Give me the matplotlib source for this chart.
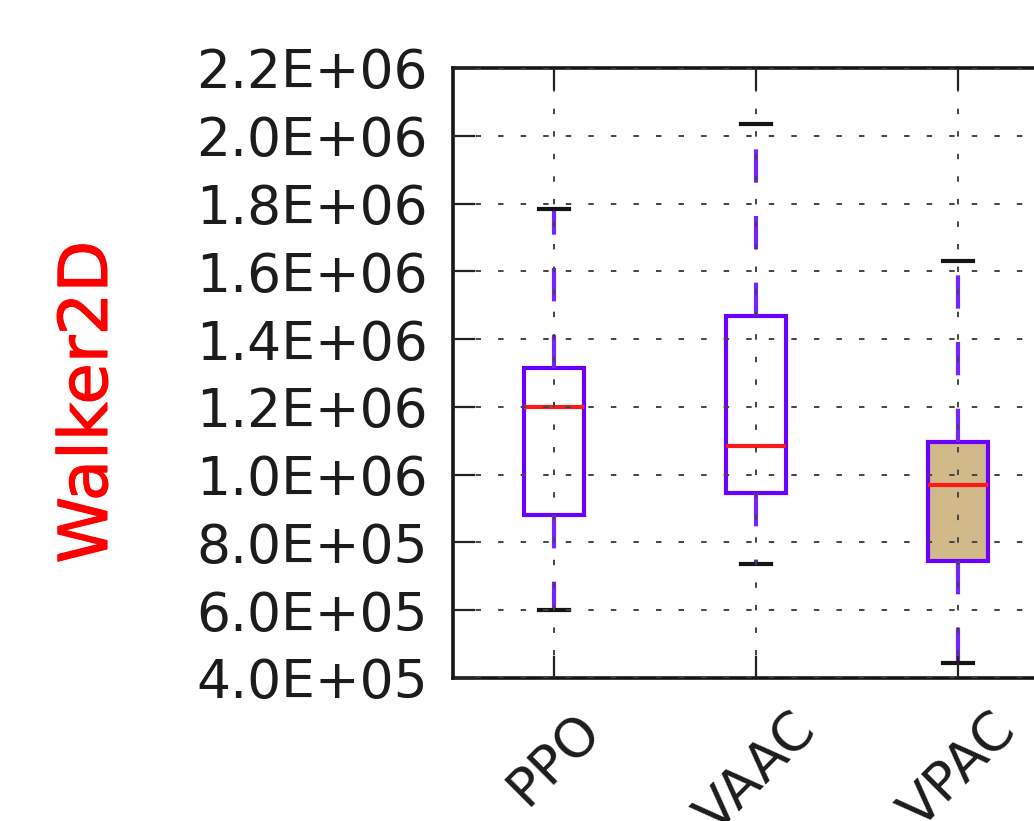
import matplotlib
matplotlib.use("Agg")
import matplotlib.pyplot as plt
from matplotlib.ticker import FormatStrFormatter, MultipleLocator
import matplotlib.patheffects as pe

# ---- data ----
methods = ["PPO", "VAAC", "VPAC"]
whislo = [6.00e5, 7.35e5, 4.45e5]
q1 = [8.80e5, 9.45e5, 7.45e5]
med = [1.20e6, 1.085e6, 9.70e5]
q3 = [1.315e6, 1.468e6, 1.097e6]
whishi = [1.785e6, 2.035e6, 1.630e6]
face_colors = ["none", "none", "#d2b98a"]
ylabel_text = "Walker2D"

purple = "#6a00ff"

fig = plt.figure(figsize=(10.34, 8.21), dpi=100)
ax = fig.add_axes([0.4381, 0.1742, 0.5861, 0.7430])

stats = []
for i, name in enumerate(methods):
    stats.append(dict(label=name, whislo=whislo[i], q1=q1[i], med=med[i],
                      q3=q3[i], whishi=whishi[i], fliers=[]))

lw = 3.0
bp = ax.bxp(stats, positions=[1, 2, 3], widths=0.3, patch_artist=True,
            showfliers=False,
            boxprops=dict(edgecolor=purple, linewidth=lw),
            whiskerprops=dict(color="#7424ff", linewidth=lw,
                              linestyle=(0, (8, 8))),
            capprops=dict(color="#151515", linewidth=lw),
            medianprops=dict(color="#ff1a1a", linewidth=lw))
for patch, fc in zip(bp["boxes"], face_colors):
    patch.set_facecolor(fc)

ax.set_xlim(0.5, 3.5)
ax.set_ylim(4.0e5, 2.2e6)
ax.yaxis.set_major_locator(MultipleLocator(2.0e5))
ax.yaxis.set_major_formatter(FormatStrFormatter("%.1E"))

ax.set_axisbelow(False)
ax.grid(True, color="#444444", linewidth=1.4, linestyle=(0, (2.8, 8.8)))

for s in ax.spines.values():
    s.set_linewidth(2.6)
    s.set_color("#161616")

ax.tick_params(axis="both", which="major", direction="in", length=16,
               width=1.6, color="#222222", top=True, right=True,
               labelsize=38.5, pad=18, labelcolor="#1c1c1c")
ax.set_xticks([1, 2, 3])
ax.set_xticklabels(methods, rotation=45, ha="center")

fig.text(88 / 1034, 1 - 402 / 821, ylabel_text, rotation=90, ha="center",
         va="center", color="#ff0000", fontsize=48.5,
         path_effects=[pe.withStroke(linewidth=0.8, foreground="#ff0000")])

fig.savefig("out.png", dpi=100)
